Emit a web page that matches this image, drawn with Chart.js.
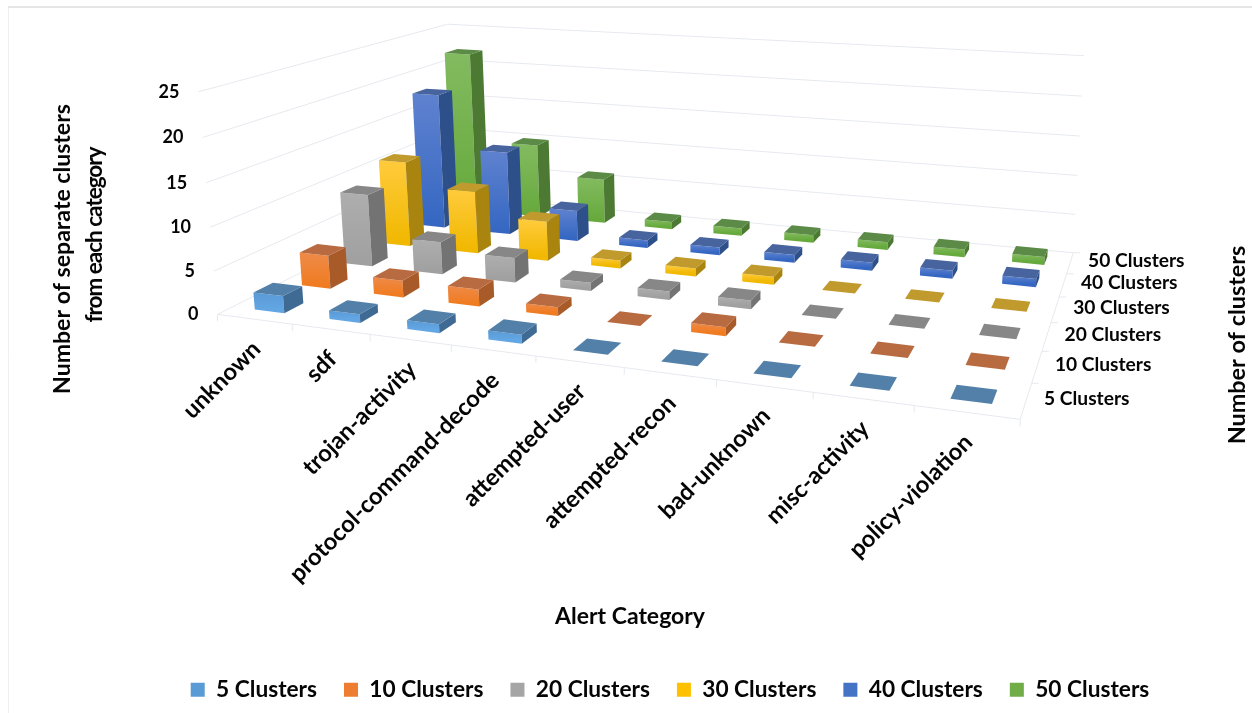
<!DOCTYPE html>
<html>
<head>
<meta charset="utf-8">
<title>Alert categories by cluster count</title>
<script src="https://cdn.jsdelivr.net/npm/chart.js@4/dist/chart.umd.js"></script>
<style>
  html, body { margin: 0; background: #fff; }
  canvas { display: block; }
</style>
</head>
<body>
<canvas id="graphAlertClusters" width="1252" height="713"></canvas>
<script>
const categories = ['unknown', 'sdf', 'trojan-activity', 'protocol-command-decode', 'attempted-user',
  'attempted-recon', 'bad-unknown', 'misc-activity', 'policy-violation'];
const seriesNames = ['5 Clusters', '10 Clusters', '20 Clusters', '30 Clusters', '40 Clusters', '50 Clusters'];

const clusters5 = [2, 1, 1, 1, 0, 0, 0, 0, 0];
const clusters10 = [4, 2, 2, 1, 0, 1, 0, 0, 0];
const clusters20 = [9, 4, 3, 1, 1, 1, 0, 0, 0];
const clusters30 = [11, 8, 5, 1, 1, 1, 0, 0, 0];
const clusters40 = [18, 11, 4, 1, 1, 1, 1, 1, 1];
const clusters50 = [22, 10, 6, 1, 1, 1, 1, 1, 1];
const seriesValues = [clusters5, clusters10, clusters20, clusters30, clusters40, clusters50];

const frontTop = ['#5a9ad6', '#ee8a48', '#aeaeae', '#ffcb3c', '#5f82cf', '#83bb60'];
const frontBottom = ['#62a6e3', '#f07c22', '#a0a0a0', '#f0b800', '#3567c2', '#66a93c'];
const sideColors = ['#3f6a94', '#a85a28', '#737373', '#a9850f', '#2d4f8a', '#4c7a33'];
const topColors = ['#5380a8', '#b86b40', '#878787', '#c19a2e', '#47649f', '#5b8b46'];
const legendColors = ['#5b9bd5', '#ed7d31', '#a5a5a5', '#ffc000', '#4472c4', '#70ad47'];

const DEPTH_SHARE = 0.4;
const GRID = '#e6e9ee';
const INK = '#050505';
const FONT = 'Lato, "Open Sans", sans-serif';

// plot box corners [u, v, w, canvasX, canvasY], u along categories, v into the page, w up
const boxCorners = [
  [0, 0, 0, 216.7, 312.7],
  [1, 0, 0, 1020.5, 420],
  [0, 1, 0, 456, 197],
  [1, 1, 0, 1073, 252],
  [0, 0, 1, 199, 93],
  [0, 1, 1, 447, 23],
  [1, 1, 1, 1084, 56]
];

// least squares fit of a projective camera to the box corners
function fitCamera(points) {
  const rows = [];
  const rhs = [];
  points.forEach(([u, v, w, px, py]) => {
    const x = px / 1000, y = py / 1000;
    rows.push([u, v, w, 1, 0, 0, 0, 0, -x * u, -x * v, -x * w]);
    rhs.push(x);
    rows.push([0, 0, 0, 0, u, v, w, 1, -y * u, -y * v, -y * w]);
    rhs.push(y);
  });
  const n = 11;
  const m = [];
  for (let i = 0; i < n; i++) {
    m.push([]);
    for (let j = 0; j < n; j++) {
      m[i][j] = rows.reduce((s, r) => s + r[i] * r[j], 0);
    }
    m[i][n] = rows.reduce((s, r, k) => s + r[i] * rhs[k], 0);
  }
  for (let c = 0; c < n; c++) {
    let best = c;
    for (let r = c + 1; r < n; r++) {
      if (Math.abs(m[r][c]) > Math.abs(m[best][c])) best = r;
    }
    [m[c], m[best]] = [m[best], m[c]];
    for (let r = 0; r < n; r++) {
      if (r === c) continue;
      const f = m[r][c] / m[c][c];
      for (let k = c; k <= n; k++) m[r][k] -= f * m[c][k];
    }
  }
  return m.map((r, i) => r[n] / r[i]);
}

const cam = fitCamera(boxCorners);

function project(u, v, w) {
  const d = cam[8] * u + cam[9] * v + cam[10] * w + 1;
  return {
    x: 1000 * (cam[0] * u + cam[1] * v + cam[2] * w + cam[3]) / d,
    y: 1000 * (cam[4] * u + cam[5] * v + cam[6] * w + cam[7]) / d
  };
}

// position of a value along its scale, 0 to 1
function share(scale, value) {
  return scale.getDecimalForPixel(scale.getPixelForValue(value));
}

function fillFace(ctx, pts, fill) {
  ctx.beginPath();
  pts.forEach((p, i) => (i ? ctx.lineTo(p.x, p.y) : ctx.moveTo(p.x, p.y)));
  ctx.closePath();
  ctx.fillStyle = fill;
  ctx.fill();
}

// bars drawn as boxes, rows are handled back to front by the chart's dataset order
class Bar3dController extends Chart.BarController {
  draw() {
    const ctx = this.chart.ctx;
    const xScale = this._cachedMeta.xScale;
    const yScale = this._cachedMeta.yScale;
    const depthScale = this.chart.scales.depth;
    const row = this.index;
    const vMid = share(depthScale, row);
    const vHalf = DEPTH_SHARE / seriesNames.length / 2;
    const v0 = vMid - vHalf, v1 = vMid + vHalf;

    this._cachedMeta.data.forEach((bar) => {
      const u0 = xScale.getDecimalForPixel(bar.x - bar.width / 2);
      const u1 = xScale.getDecimalForPixel(bar.x + bar.width / 2);
      const w = yScale.getDecimalForPixel(bar.y);
      const fb = project(u0, v0, 0), fr = project(u1, v0, 0), br = project(u1, v1, 0);
      const tl = project(u0, v0, w), tr = project(u1, v0, w), tbr = project(u1, v1, w), tbl = project(u0, v1, w);
      if (w > 0) {
        const grad = ctx.createLinearGradient(0, tl.y, 0, fb.y);
        grad.addColorStop(0, frontTop[row]);
        grad.addColorStop(1, frontBottom[row]);
        fillFace(ctx, [tl, tr, fr, fb], grad);
        fillFace(ctx, [tr, tbr, br, fr], sideColors[row]);
      }
      fillFace(ctx, [tl, tr, tbr, tbl], topColors[row]);
    });
  }
}
Bar3dController.id = 'bar3d';
Bar3dController.defaults = Chart.BarController.defaults;
Bar3dController.overrides = Chart.BarController.overrides;
Chart.register(Bar3dController);

function strokeLine(ctx, a, b) {
  ctx.beginPath();
  ctx.moveTo(a.x, a.y);
  ctx.lineTo(b.x, b.y);
  ctx.stroke();
}

function drawText(ctx, text, x, y, font, align, angle, spacing) {
  ctx.save();
  ctx.translate(x, y);
  ctx.rotate(angle || 0);
  ctx.font = font;
  ctx.letterSpacing = spacing || '0px';
  ctx.fillStyle = INK;
  ctx.textAlign = align;
  ctx.textBaseline = 'middle';
  ctx.fillText(text, 0, 0);
  ctx.restore();
}

const boxWalls = {
  id: 'boxWalls',
  beforeDatasetsDraw(chart) {
    const ctx = chart.ctx;
    const { x, y } = chart.scales;
    ctx.save();
    ctx.strokeStyle = '#f0f0f0';
    ctx.lineWidth = 1;
    strokeLine(ctx, { x: 8.5, y: 6 }, { x: 8.5, y: 713 });
    ctx.strokeStyle = '#e6e6e6';
    ctx.lineWidth = 2;
    strokeLine(ctx, { x: 8, y: 7 }, { x: 1252, y: 7 });

    ctx.lineWidth = 1;
    ctx.strokeStyle = GRID;
    y.ticks.forEach((t) => {
      const w = share(y, t.value);
      strokeLine(ctx, project(0, 0, w), project(0, 1, w));
      strokeLine(ctx, project(0, 1, w), project(1, 1, w));
    });
    strokeLine(ctx, project(0, 0, 0), project(1, 0, 0));
    strokeLine(ctx, project(1, 0, 0), project(1, 1, 0));

    // tick marks between the categories and between the rows
    for (let i = 0; i <= categories.length; i++) {
      const p = project(share(x, i - 0.5), 0, 0);
      strokeLine(ctx, p, { x: p.x, y: p.y + 7 });
    }
    for (let j = 1; j <= seriesNames.length; j++) {
      const p = project(1, j / seriesNames.length, 0);
      strokeLine(ctx, p, { x: p.x + 7, y: p.y });
    }
    ctx.restore();
  },
  afterDatasetsDraw(chart) {
    const ctx = chart.ctx;
    const { x, y, depth } = chart.scales;

    y.ticks.forEach((t) => {
      const p = project(0, 0, share(y, t.value));
      drawText(ctx, t.label, p.x - 19, p.y, 'bold 18px ' + FONT, 'right');
    });
    categories.forEach((name, i) => {
      const p = project(share(x, i), 0, 0);
      drawText(ctx, name, p.x + 2, p.y + 26, 'bold 23.6px ' + FONT, 'right', -Math.PI / 4);
    });
    seriesNames.forEach((name, j) => {
      const p = project(1, share(depth, j), 0);
      drawText(ctx, name, p.x + 18, p.y - 2, 'bold 19.2px ' + FONT, 'left');
    });

    drawText(ctx, 'Alert Category', 630, 617, 'bold 23px ' + FONT, 'center');
    drawText(ctx, 'Number of separate clusters', 63, 249, 'bold 23.1px ' + FONT, 'center', -Math.PI / 2);
    drawText(ctx, 'from each category', 95, 235, 'bold 22.5px ' + FONT, 'center', -Math.PI / 2, '-1px');
    drawText(ctx, 'Number of clusters', 1237, 345, 'bold 23.4px ' + FONT, 'center', -Math.PI / 2);
  }
};

new Chart(document.getElementById('graphAlertClusters'), {
  type: 'bar3d',
  data: {
    labels: categories,
    datasets: seriesNames.map((name, j) => ({
      label: name,
      data: seriesValues[j],
      backgroundColor: legendColors[j],
      categoryPercentage: DEPTH_SHARE,
      barPercentage: 1
    }))
  },
  options: {
    responsive: false,
    animation: false,
    layout: { padding: { left: 88, bottom: 2 } },
    scales: {
      x: { type: 'category', stacked: true, display: false, offset: true },
      y: { type: 'linear', min: 0, max: 25, ticks: { stepSize: 5 }, display: false },
      depth: { type: 'category', axis: 'y', position: 'right', labels: seriesNames, offset: true, display: false }
    },
    plugins: {
      tooltip: { enabled: false },
      legend: {
        position: 'bottom',
        labels: {
          boxWidth: 14,
          boxHeight: 14,
          padding: 27,
          color: INK,
          font: { family: 'Lato', weight: 'bold', size: 22.7 }
        }
      }
    }
  },
  plugins: [boxWalls]
});
</script>
</body>
</html>
